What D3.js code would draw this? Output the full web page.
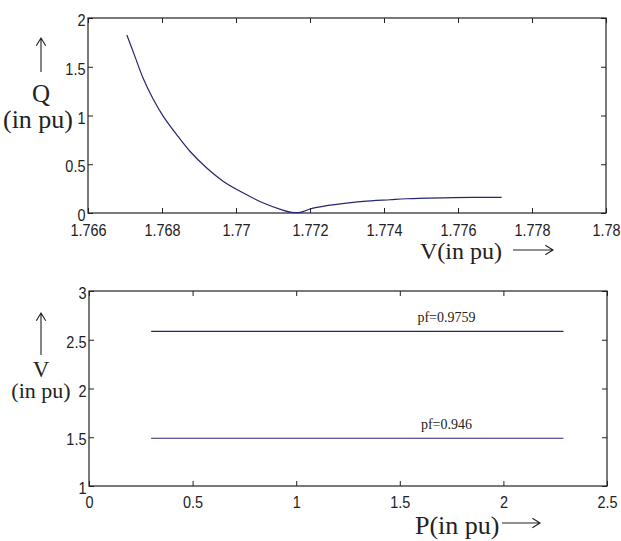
<!DOCTYPE html>
<html>
<head>
	<meta charset="utf-8">
	<script src="https://cdn.jsdelivr.net/npm/d3@7"></script>
	<style type="text/css">
		body {
			margin: 0;
			background: #fff;
		}
		.tick text {
			font-family: "Liberation Sans", Arial, sans-serif;
			font-size: 17px;
			fill: #222;
		}
		.tick line {
			stroke: #222;
		}
	</style>
</head>
<body>

<script>
    // top chart: Q against V
    var vValues = [1.76705, 1.76727, 1.76749, 1.76776, 1.76804, 1.7684, 1.76876, 1.76921,
        1.76966, 1.7702, 1.77074, 1.77128, 1.77151, 1.77173, 1.772, 1.77245, 1.77299,
        1.77344, 1.77416, 1.77461, 1.77641, 1.77718];
    var qValues = [1.826, 1.604, 1.382, 1.17, 0.989, 0.802, 0.631, 0.461,
        0.324, 0.205, 0.102, 0.027, 0.006, 0.006, 0.041, 0.075, 0.102,
        0.119, 0.136, 0.146, 0.16, 0.16];
    var vTicks = [1.766, 1.768, 1.77, 1.772, 1.774, 1.776, 1.778, 1.78];
    var qTicks = [0, 0.5, 1, 1.5, 2];

    // bottom chart: V against P for two power factors
    var pValues = [0.3, 2.29];
    var vPf1 = [2.585, 2.585];
    var vPf2 = [1.49, 1.49];
    var pfLabels = ["pf=0.9759", "pf=0.946"];
    var pTicks = [0, 0.5, 1, 1.5, 2, 2.5];
    var vAxisTicks = [1, 1.5, 2, 2.5, 3];

    var width = 621, height = 541;
    var lineColor = "#26266e";
    var serif = "'Liberation Serif', 'Times New Roman', Times, 'DejaVu Serif', serif";

    var svg = d3.select("body")
        .append("svg")
        .attr("width", width)
        .attr("height", height);

    // draws a boxed plot with inward ticks on all four sides
    function makeFrame(x, y, xTicks, yTicks, xPad) {
        var x0 = x.range()[0], x1 = x.range()[1];
        var y0 = y.range()[0], y1 = y.range()[1];

        svg.append("g")
            .attr("transform", "translate(0," + y0 + ")")
            .call(d3.axisBottom(x).tickValues(xTicks).tickFormat(d3.format("")).tickSizeInner(-5).tickSizeOuter(0).tickPadding(xPad))
            .call(function(g) { g.select(".domain").remove(); });

        svg.append("g")
            .attr("transform", "translate(0," + y1 + ")")
            .call(d3.axisTop(x).tickValues(xTicks).tickFormat("").tickSizeInner(-5).tickSizeOuter(0))
            .call(function(g) { g.select(".domain").remove(); });

        svg.append("g")
            .attr("transform", "translate(" + x0 + ",0)")
            .call(d3.axisLeft(y).tickValues(yTicks).tickFormat(d3.format("")).tickSizeInner(-5).tickSizeOuter(0).tickPadding(3))
            .call(function(g) { g.select(".domain").remove(); })
            .selectAll("text").attr("dy", "0.45em");

        svg.append("g")
            .attr("transform", "translate(" + x1 + ",0)")
            .call(d3.axisRight(y).tickValues(yTicks).tickFormat("").tickSizeInner(-5).tickSizeOuter(0))
            .call(function(g) { g.select(".domain").remove(); });

        // narrow the tick labels a bit
        svg.selectAll(".tick text").attr("transform", "scale(0.85,1)");

        svg.append("rect")
            .attr("x", x0)
            .attr("y", y1)
            .attr("width", x1 - x0)
            .attr("height", y0 - y1)
            .style("fill", "none")
            .style("stroke", "#222")
            .style("stroke-width", 1.2);
    }

    // little line arrows used next to axis titles
    function arrow(xa, ya, xb, yb) {
        var ang = Math.atan2(yb - ya, xb - xa);
        var h = 9, s = 0.55;
        var p = d3.path();
        p.moveTo(xa, ya);
        p.lineTo(xb, yb);
        p.moveTo(xb - h * Math.cos(ang - s), yb - h * Math.sin(ang - s));
        p.lineTo(xb, yb);
        p.lineTo(xb - h * Math.cos(ang + s), yb - h * Math.sin(ang + s));
        svg.append("path")
            .attr("d", p.toString())
            .style("fill", "none")
            .style("stroke", "#222")
            .style("stroke-width", 1.1);
    }

    function label(x, y, size, str, anchor) {
        return svg.append("text")
            .attr("x", x).attr("y", y)
            .attr("text-anchor", anchor || "start")
            .style("font-family", serif)
            .style("font-size", size + "px")
            .style("fill", "#222")
            .text(str);
    }

    // ---- top plot ----
    var x1 = d3.scaleLinear().domain([1.766, 1.78]).range([88, 606]);
    var y1 = d3.scaleLinear().domain([0, 2]).range([213, 18]);

    makeFrame(x1, y1, vTicks, qTicks, 11);

    var qv = vValues.map(function(v, i) { return [v, qValues[i]]; });
    svg.append("path")
        .datum(qv)
        .attr("d", d3.line().curve(d3.curveCatmullRom)
            .x(function(d) { return x1(d[0]); })
            .y(function(d) { return y1(d[1]); }))
        .style("fill", "none")
        .style("stroke", lineColor)
        .style("stroke-width", 1.2);

    label(420, 259, 24, "V(in pu)");
    arrow(513, 250, 553, 250);

    arrow(41, 72, 41, 38);
    label(41, 102, 25, "Q", "middle");
    label(38, 128, 26, "(in pu)", "middle");

    // ---- bottom plot ----
    var x2 = d3.scaleLinear().domain([0, 2.5]).range([89, 607]);
    var y2 = d3.scaleLinear().domain([1, 3]).range([486, 291]);

    makeFrame(x2, y2, pTicks, vAxisTicks, 10);

    var pfSeries = [vPf1, vPf2];
    var line2 = d3.line()
        .x(function(d) { return x2(d[0]); })
        .y(function(d) { return y2(d[1]); });

    pfSeries.forEach(function(vals, k) {
        var pts = pValues.map(function(p, i) { return [p, vals[i]]; });
        svg.append("path")
            .datum(pts)
            .attr("d", line2)
            .style("fill", "none")
            .style("stroke", lineColor)
            .style("stroke-width", 1.2);

        label(x2(1.725), y2(vals[0]) - 9, 14, pfLabels[k], "middle");
    });

    label(415, 534, 26, "P(in pu)");
    arrow(502, 523, 540, 523);

    arrow(41, 355, 41, 313);
    label(41, 377, 23, "V", "middle");
    label(41, 398, 22, "(in pu)", "middle");
</script>
</body>
</html>
